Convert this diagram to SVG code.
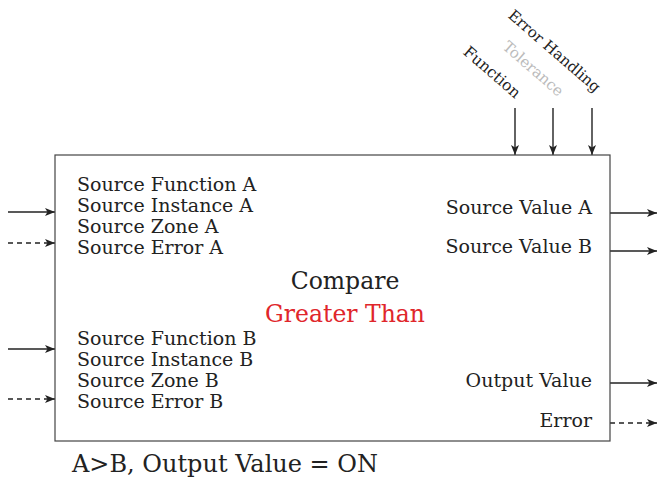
<svg xmlns="http://www.w3.org/2000/svg" width="657" height="489" viewBox="0 0 657 489">
<defs>
<marker id="ah" viewBox="0 0 10 8" refX="10" refY="4" markerWidth="10" markerHeight="8" markerUnits="userSpaceOnUse" orient="auto">
<path d="M0,0 L10,4 L0,8 L2.5,4 Z" fill="#222"/>
</marker>
<style>
text{font-family:"DejaVu Serif","Liberation Serif",serif;fill:#222}
.t{font-size:19px}
.big{font-size:23.5px}
.cap{font-size:24px}
.rot{font-size:15px}
.c{stroke:#222;stroke-width:1.4;fill:none;marker-end:url(#ah)}
.d{stroke-dasharray:5,4}
</style>
</defs>
<rect width="657" height="489" fill="#fff"/>
<g id="connectors">
<line class="c" x1="8" y1="212" x2="55" y2="212"/>
<line class="c d" x1="8" y1="243" x2="55" y2="243"/>
<line class="c" x1="8" y1="349" x2="55" y2="349"/>
<line class="c d" x1="8" y1="399" x2="55" y2="399"/>
<line class="c" x1="610" y1="213" x2="657" y2="213"/>
<line class="c" x1="610" y1="251" x2="657" y2="251"/>
<line class="c" x1="610" y1="383" x2="657" y2="383"/>
<line class="c d" x1="610" y1="423" x2="657" y2="423"/>
<line class="c" x1="515" y1="108" x2="515" y2="155"/>
<line class="c" x1="553" y1="108" x2="553" y2="155"/>
<line class="c" x1="592" y1="108" x2="592" y2="155"/>
</g>
<g id="compare">
<rect x="55" y="155" width="555" height="286" fill="none" stroke="#444" stroke-width="1.2"/>
<text class="t" x="77" y="191">Source Function A</text>
<text class="t" x="77" y="212">Source Instance A</text>
<text class="t" x="77" y="233">Source Zone A</text>
<text class="t" x="77" y="254">Source Error A</text>
<text class="t" x="77" y="345">Source Function B</text>
<text class="t" x="77" y="366">Source Instance B</text>
<text class="t" x="77" y="387">Source Zone B</text>
<text class="t" x="77" y="408">Source Error B</text>
<text class="t" x="592" y="214" text-anchor="end">Source Value A</text>
<text class="t" x="592" y="253" text-anchor="end">Source Value B</text>
<text class="t" x="592" y="387" text-anchor="end">Output Value</text>
<text class="t" x="592" y="427" text-anchor="end">Error</text>
<text class="big" x="345" y="289" text-anchor="middle">Compare</text>
<text class="big" x="345" y="322" text-anchor="middle" style="fill:#e0262b">Greater Than</text>
</g>
<g id="inputs-top">
<text class="rot" transform="translate(515,99) rotate(41)" text-anchor="end" style="font-size:15.5px">Function</text>
<text class="rot" transform="translate(558,97) rotate(41)" text-anchor="end" style="fill:#bbb">Tolerance</text>
<text class="rot" transform="translate(595,93) rotate(41)" text-anchor="end">Error Handling</text>
</g>
<text class="cap" x="72" y="472">A&gt;B, Output Value = ON</text>
</svg>
